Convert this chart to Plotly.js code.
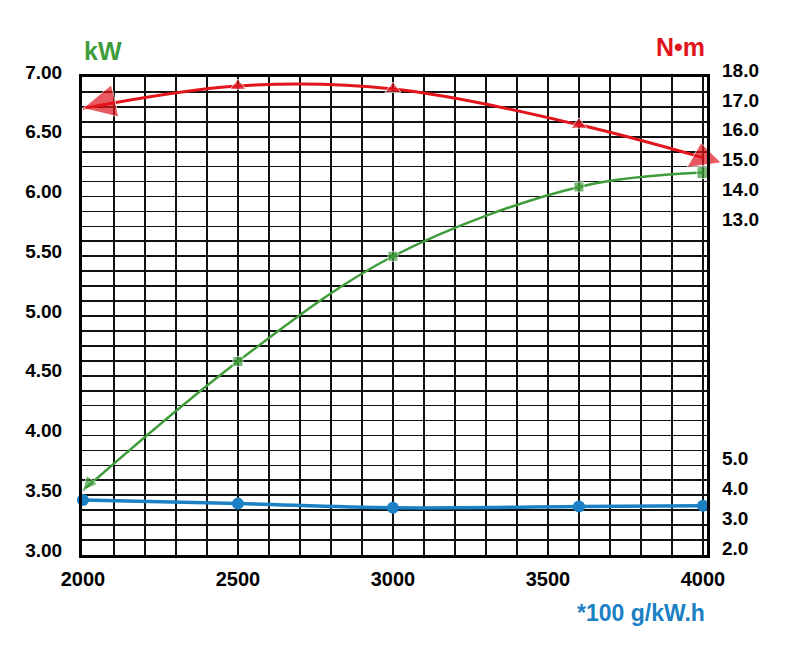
<!DOCTYPE html>
<html>
<head>
<meta charset="utf-8">
<script src="https://cdn.plot.ly/plotly-3.0.1.min.js"></script>
<style>
  html, body { margin: 0; padding: 0; background: #fff; }
  #chart { width: 793px; height: 648px; }
</style>
</head>
<body>
<div id="chart"></div>
<script>
// engine speed, rpm
const speed = [2000, 2500, 3000, 3600, 4000];
// power, kW (left axis)
const power = [3.54, 4.62, 5.50, 6.08, 6.20];
// torque, N·m (right axis)
const torque = [16.95, 17.7, 17.6, 16.4, 15.3];
// fuel consumption, *100 g/kW.h (right axis)
const fuel = [3.84, 3.72, 3.58, 3.62, 3.65];

const xTicks = [2000, 2500, 3000, 3500, 4000];
const leftTicks = [3.0, 3.5, 4.0, 4.5, 5.0, 5.5, 6.0, 6.5, 7.0];
const rightTicks = [2, 3, 4, 5, 13, 14, 15, 16, 17, 18];

const RED = '#e2141c';
const GREEN = '#3e9d3a';
const BLUE = '#1b80c4';
const FONT = 'Liberation Sans, Arial, sans-serif';

const tracePower = {
    x: speed,
    y: power,
    name: 'kW',
    type: 'scatter',
    mode: 'lines+markers',
    cliponaxis: false,
    line: { color: GREEN, width: 2.5, shape: 'spline', smoothing: 1 },
    marker: {
        color: GREEN,
        symbol: ['arrow-down', 'square', 'square', 'square', 'square'],
        size: [14, 10, 10, 10, 12],
        angle: [40, 0, 0, 0, 0]
    },
    yaxis: 'y'
};

const traceTorque = {
    x: speed,
    y: torque,
    name: 'N•m',
    type: 'scatter',
    mode: 'lines+markers',
    cliponaxis: false,
    line: { color: RED, width: 3, shape: 'spline', smoothing: 1 },
    marker: {
        color: RED,
        symbol: ['arrow-left', 'triangle-up', 'triangle-up', 'triangle-up', 'triangle-up'],
        size: [33, 14, 14, 14, 30],
        angle: [-13, 0, 0, 0, -8]
    },
    yaxis: 'y2'
};

const traceFuel = {
    x: speed,
    y: fuel,
    name: 'g/kW.h',
    type: 'scatter',
    mode: 'lines+markers',
    cliponaxis: false,
    line: { color: BLUE, width: 3.5, shape: 'spline', smoothing: 1 },
    marker: { color: BLUE, symbol: 'circle', size: 12 },
    yaxis: 'y2'
};

const layout = {
    width: 793,
    height: 648,
    margin: { l: 82, r: 86, t: 77, b: 93 },
    paper_bgcolor: '#fff',
    plot_bgcolor: '#fff',
    showlegend: false,
    font: { family: FONT, color: '#000' },
    xaxis: {
        range: [1997, 4013],
        tickvals: xTicks,
        ticks: '',
        ticklabelstandoff: 4,
        tickfont: { size: 20, weight: 'bold', color: '#000' },
        showgrid: true,
        gridcolor: '#111',
        gridwidth: 1.7,
        minor: { dtick: 100, tick0: 2000, showgrid: true, gridcolor: '#111', gridwidth: 1.7 },
        showline: true,
        linecolor: '#000',
        linewidth: 3,
        mirror: true,
        zeroline: false,
        fixedrange: true
    },
    yaxis: {
        range: [3, 7],
        tickvals: leftTicks,
        tickformat: '.2f',
        ticks: '',
        ticklabelstandoff: 13,
        ticklabelshift: -5,
        tickfont: { size: 19, weight: 'bold', color: '#000' },
        showgrid: true,
        gridcolor: '#111',
        gridwidth: 1.7,
        minor: { dtick: 0.125, tick0: 3, showgrid: true, gridcolor: '#111', gridwidth: 1.7 },
        showline: true,
        linecolor: '#000',
        linewidth: 3,
        mirror: true,
        zeroline: false,
        fixedrange: true
    },
    yaxis2: {
        overlaying: 'y',
        side: 'right',
        range: [2, 18],
        tickvals: rightTicks,
        tickformat: '.1f',
        ticks: '',
        ticklabelstandoff: 14,
        ticklabelshift: -7,
        tickfont: { size: 19, weight: 'bold', color: '#000' },
        showgrid: false,
        showline: false,
        zeroline: false,
        fixedrange: true
    },
    annotations: [
        {
            text: '<b>kW</b>', xref: 'paper', yref: 'paper', x: 0, y: 1,
            xanchor: 'left', yanchor: 'bottom', yshift: 10, showarrow: false,
            font: { size: 25, color: GREEN, family: FONT }
        },
        {
            text: '<b>N•m</b>', xref: 'paper', yref: 'paper', x: 1, y: 1,
            xanchor: 'right', yanchor: 'bottom', yshift: 14, showarrow: false,
            font: { size: 25, color: RED, family: FONT }
        },
        {
            text: '<b>*100 g/kW.h</b>', xref: 'paper', yref: 'paper', x: 1, y: 0,
            xanchor: 'right', yanchor: 'top', yshift: -43, showarrow: false,
            font: { size: 23, color: BLUE, family: FONT }
        }
    ]
};

const config = { staticPlot: true, displayModeBar: false };

Plotly.newPlot('chart', [tracePower, traceTorque, traceFuel], layout, config);
</script>
</body>
</html>
